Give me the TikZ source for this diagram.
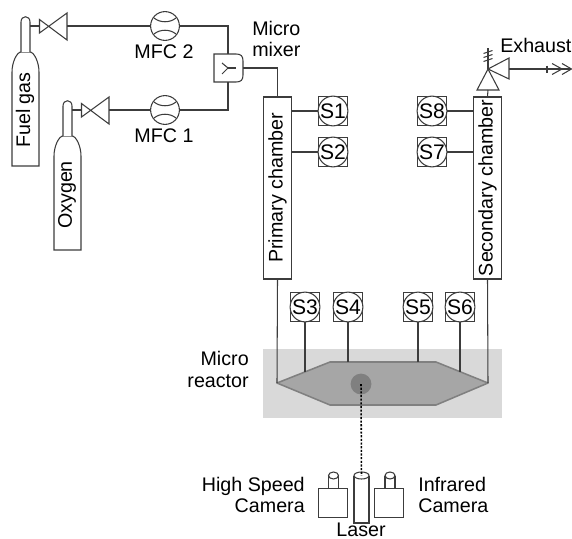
\documentclass[tikz,border=0pt]{standalone}
\usepackage{fontspec}
\setmainfont{Liberation Sans}
\usetikzlibrary{arrows.meta,positioning,calc}
\definecolor{linegray}{HTML}{3C3C3C}
\definecolor{panelgray}{HTML}{D9D9D9}
\definecolor{reactorgray}{HTML}{A6A6A6}
\definecolor{edgegray}{HTML}{808080}
\tikzset{
  lbl/.style={font=\fontsize{14}{15}\selectfont,text=black,inner sep=0pt},
  part/.style={draw=linegray,line width=0.75pt,fill=white},
  pipe/.style={draw=linegray,line width=0.75pt},
  chamberbox/.style={part,minimum width=0.69cm,minimum height=4.55cm,inner sep=0pt},
  sensorbox/.style={part,minimum width=0.72cm,minimum height=0.72cm,inner sep=0pt},
  sensordisc/.style={part,circle,minimum size=0.7cm,inner sep=0pt,font=\fontsize{15}{16}\selectfont},
  mfcdisc/.style={part,circle,minimum size=0.72cm,inner sep=0pt},
  camerabox/.style={part,minimum width=0.71cm,minimum height=0.71cm,inner sep=0pt}
}
\begin{document}
\begin{tikzpicture}[x=0.025cm,y=-0.025cm]
\path[use as bounding box] (0,0) rectangle (572,539);
% gas lines
\foreach \nm/\gas/\dx/\dy/\ty in {F/Fuel gas/0/0/110,O/Oxygen/42/84/111}{
\begin{scope}[shift={(\dx,\dy)}]
\draw[part] (12,166)--(12,72) .. controls (12,62) and (17,52) .. (21,52)--(30,52) .. controls (34,52) and (39,62) .. (39,72)--(39,166)--cycle;
\draw[part] (21,52)--(21,22) .. controls (21,15) and (30,15) .. (30,22)--(30,52);
\node[lbl,rotate=90] (gas\nm) at (25,\ty) {\gas};
\coordinate (neck\nm) at (30,26);
\coordinate (valvein\nm) at (39.5,26);
\coordinate (valveout\nm) at (67,26);
\draw[part] (39.5,19.5)--(67,40)--(67,13)--(39.5,33)--cycle;
\end{scope}
\draw[pipe] (neck\nm)--(valvein\nm);
}
\foreach \nm/\flow/\yy in {F/MFC 2/26,O/MFC 1/110}{
\node[mfcdisc] (mfc\nm) at (165,\yy) {};
\draw[pipe] ($(mfc\nm.center)+(-11,-8)$) .. controls ($(mfc\nm.center)+(-5,-3)$) and ($(mfc\nm.center)+(5,-3)$) .. ($(mfc\nm.center)+(11,-8)$);
\draw[pipe] ($(mfc\nm.center)+(-11,8)$) .. controls ($(mfc\nm.center)+(-5,3)$) and ($(mfc\nm.center)+(5,3)$) .. ($(mfc\nm.center)+(11,8)$);
\node[lbl] (flow\nm) at (164,\yy+26) {\flow};
\draw[pipe] (valveout\nm)--(mfc\nm);
}
% mixer
\draw[part] (214,54)--(236,54) .. controls (241,54) and (243,56) .. (243,61)--(243,75) .. controls (243,80) and (241,82) .. (236,82)--(214,82)--cycle;
\coordinate (mixertop) at (228,54);
\coordinate (mixerbot) at (228,82);
\coordinate (mixerout) at (243,68);
\coordinate (mixerin) at (228,68);
\draw[pipe] (mfcF)--(mfcF -| mixertop)--(mixertop);
\draw[pipe] (mfcO)--(mfcO -| mixerbot)--(mixerbot);
\draw[pipe] (222,63)--(mixerin)--(222,74);
\draw[pipe] (mixerin)--(236,68);
\node[lbl,align=left,anchor=west] (mixerlabel) at (252,39) {Micro\\mixer};
% chambers
\node[chamberbox] (primary) at (277.5,188) {};
\node[lbl,rotate=90] (primarylabel) at (primary) {Primary chamber};
\node[chamberbox] (secondary) at (487.5,188) {};
\node[lbl,rotate=90] (secondarylabel) at (secondary) {Secondary chamber};
\draw[pipe] (mixerout)--(primary.north |- mixerout)--(primary.north);
% sensors
\foreach \nm/\px/\py in {S1/333/111,S2/333/152,S8/432/111,S7/432/152,S3/305/307,S4/348/307,S5/418/307,S6/460/307}{
\node[sensorbox] (\nm) at (\px,\py) {};
\node[sensordisc] (\nm disc) at (\nm) {\nm};
}
\draw[pipe] (S1.west)--(S1.west -| primary.east);
\draw[pipe] (S2.west)--(S2.west -| primary.east);
\draw[pipe] (S8.east)--(S8.east -| secondary.west);
\draw[pipe] (S7.east)--(S7.east -| secondary.west);
% exhaust
\coordinate (apex) at (488,69);
\draw[part] (apex)--(477,90)--(499,90)--cycle;
\draw[part] (apex)--(509,58)--(509,79)--cycle;
\coordinate (valvebase) at (488,90);
\coordinate (valveside) at (509,69);
\coordinate (valvetop) at (488,48);
\coordinate (exhausttick) at (547,69);
\coordinate (exhaustend) at (571,69);
\draw[pipe] (secondary.north)--(valvebase);
\draw[pipe] (apex)--(valvetop);
\foreach \yt in {52,56,60}{\draw[pipe] (483.5,\yt+1.5)--(492.5,\yt-1.5);}
\draw[pipe] (valveside)--(exhaustend);
\draw[pipe] (exhausttick)+(0,-3.5)--+(0,3.5);
\draw[pipe] (552,63.5)--(562,69)--(552,74.5);
\draw[pipe] (562,63.5)--(571.5,69)--(562,74.5);
\node[lbl,anchor=west] (exhaustlabel) at (500,45) {Exhaust};
% reactor
\fill[panelgray] (263,349) rectangle (502,418);
\coordinate (rleft) at (277,383);
\coordinate (rright) at (488,383);
\draw[draw=edgegray,fill=reactorgray,line width=1.1pt,line join=round] (rleft)--(330,362)--(436,362)--(rright)--(436,405)--(330,405)--cycle;
\node[circle,fill=edgegray,minimum size=0.52cm,inner sep=0pt] (spot) at (361,384) {};
\node[lbl,align=right,anchor=east] (reactorlabel) at (249,369.5) {Micro\\reactor};
\draw[pipe] (primary.south)--(rleft);
\draw[pipe] (secondary.south)--(rright);
\foreach \nm/\px/\yr in {S3/305/372,S4/348/362,S5/418/362,S6/460/372}{
\coordinate (tap\nm) at (\px,\yr);
\draw[pipe] (\nm.south)--(tap\nm);
}
% laser and cameras
\coordinate (lasertop) at (361.5,475.5);
\draw[part] (354,475.5)--(354,523)--(369,523)--(369,475.5);
\draw[part] (lasertop) ellipse (7.5 and 3.5);
\draw[draw=black,line width=1.1pt,dash pattern=on 1.5pt off 1.1pt] (spot.center)--(lasertop);
\foreach \nm/\bx in {A/333.5,B/390}{
\draw[part] (\bx-5,475.5)--(\bx-5,489)--(\bx+5,489)--(\bx+5,475.5);
\draw[part] (\bx,475.5) ellipse (5 and 3.5);
}
\node[camerabox] (cameraA) at (333,503) {};
\node[camerabox] (cameraB) at (389,503) {};
\node[lbl,align=right,anchor=east] (highspeed) at (305,495) {High Speed\\Camera};
\node[lbl,align=left,anchor=west] (infrared) at (418,495) {Infrared\\Camera};
\node[lbl] (laser) at (361,530) {Laser};
\end{tikzpicture}
\end{document}
